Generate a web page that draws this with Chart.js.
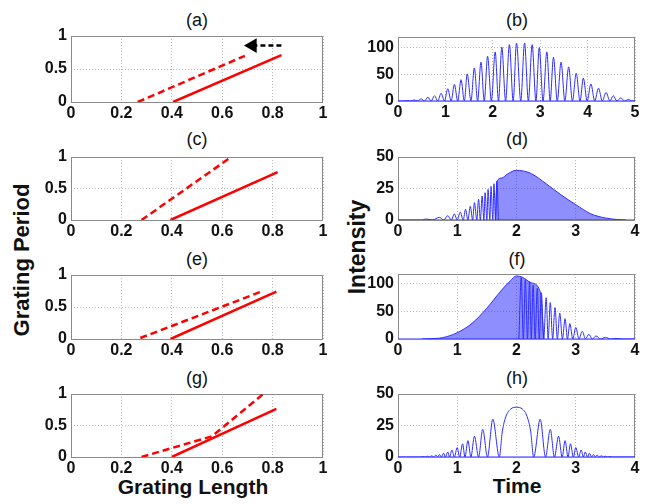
<!DOCTYPE html>
<html>
<head>
<meta charset="utf-8">
<script src="https://cdn.jsdelivr.net/npm/chart.js@4.4.0/dist/chart.umd.min.js"></script>
<style>
  body { margin: 0; background: #fff; width: 646px; height: 504px; position: relative; overflow: hidden;
         font-family: "Liberation Sans", Arial, sans-serif; color: #111; }
  canvas { position: absolute; }
  .ttl { position: absolute; font-size: 18px; transform: translate(-50%, -50%); white-space: nowrap; }
  .lbl { position: absolute; font-size: 21px; font-weight: bold; transform: translate(-50%, -50%); white-space: nowrap; }
  .rot { transform: translate(-50%, -50%) rotate(-90deg); font-size: 22px; }
</style>
</head>
<body>

<div class="ttl" style="left:197px;top:20px">(a)</div>
<div class="ttl" style="left:517px;top:20px">(b)</div>
<div class="ttl" style="left:197px;top:139px">(c)</div>
<div class="ttl" style="left:517px;top:139px">(d)</div>
<div class="ttl" style="left:197px;top:259px">(e)</div>
<div class="ttl" style="left:517px;top:259px">(f)</div>
<div class="ttl" style="left:197px;top:378px">(g)</div>
<div class="ttl" style="left:517px;top:378px">(h)</div>

<div class="lbl rot" style="left:22px;top:260px">Grating Period</div>
<div class="lbl rot" style="left:357px;top:247px;font-size:23px">Intensity</div>
<div class="lbl" style="left:193px;top:487px">Grating Length</div>
<div class="lbl" style="left:517px;top:486px">Time</div>

<canvas id="pa"></canvas>
<canvas id="pb"></canvas>
<canvas id="pc"></canvas>
<canvas id="pd"></canvas>
<canvas id="pe"></canvas>
<canvas id="pf"></canvas>
<canvas id="pg"></canvas>
<canvas id="ph"></canvas>

<script>
// Tick labels
var lengthTicks = [0, 0.2, 0.4, 0.6, 0.8, 1];
var periodTicks = [0, 0.5, 1];
var timeTicks5 = [0, 1, 2, 3, 4, 5];
var timeTicks4 = [0, 1, 2, 3, 4];
var intTicksBig = [0, 50, 100];
var intTicksSmall = [0, 25, 50];

// (a) grating profiles: solid = original, dashed = shifted, arrow = shift direction
var aSolidLen = [0.405, 0.835];
var aSolidPer = [0, 0.71];
var aDashLen = [0.265, 0.69];
var aDashPer = [0, 0.70];
var aArrowLen = [0.835, 0.72];
var aArrowPer = [0.855, 0.855];

// (c)
var cSolidLen = [0.395, 0.82];
var cSolidPer = [0, 0.76];
var cDashLen = [0.28, 0.625];
var cDashPer = [0, 0.97];

// (e)
var eSolidLen = [0.395, 0.815];
var eSolidPer = [0, 0.74];
var eDashLen = [0.275, 0.755];
var eDashPer = [0.015, 0.74];

// (g)
var gSolidLen = [0.40, 0.815];
var gSolidPer = [0, 0.765];
var gDashLen = [0.28, 0.56, 0.76];
var gDashPer = [0, 0.33, 0.99];

// (b) fringes: peaks and troughs in time order
var bTime = [0.00, 0.12, 0.20, 0.27, 0.34, 0.41, 0.49, 0.56, 0.63, 0.70, 0.77, 0.84, 0.91, 0.98, 1.05, 1.12,
  1.19, 1.26, 1.33, 1.40, 1.46, 1.54, 1.61, 1.68, 1.75, 1.82, 1.89, 1.97, 2.05, 2.12, 2.19, 2.27, 2.35, 2.43,
  2.50, 2.59, 2.67, 2.75, 2.83, 2.91, 2.98, 3.06, 3.14, 3.21, 3.28, 3.36, 3.44, 3.52, 3.60, 3.68, 3.76, 3.84,
  3.91, 3.99, 4.07, 4.15, 4.23, 4.31, 4.39, 4.47, 4.54, 4.62, 4.70, 4.78, 4.86, 4.93, 5.00];
var bInt = [0, 0, 1, 0, 2, 0, 4, 0, 7, 0, 10, 0, 14.5, 0, 23, 0,
  31, 0, 40, 0, 51, 0, 62, 0, 73, 0, 84, 0, 92, 0, 101, 0, 105.7, 0,
  108.8, 0, 108.8, 0, 105.7, 0, 100, 0, 92, 0, 82, 0, 73, 0, 64, 0, 52, 0,
  43, 0, 32, 0, 24, 0, 16, 0, 10, 0, 6, 0, 3, 0, 0];

// (d) resolved fringes on the left, then the unresolved (dense) part as its envelope
var dTime = [0.00, 0.40, 0.47, 0.58, 0.70, 0.77, 0.84, 0.90, 0.95, 1.00, 1.05, 1.10, 1.14, 1.18, 1.22, 1.26,
  1.29, 1.33, 1.36, 1.39, 1.42, 1.45, 1.47, 1.50, 1.52, 1.55, 1.57, 1.60, 1.62, 1.645, 1.67, 1.695];
var dInt = [0, 0, 0.8, 0, 2.1, 0, 3.4, 0, 4.8, 0, 6.3, 0, 8.5, 0, 10.8, 0,
  13.8, 0, 16.4, 0, 19, 0, 21.7, 0, 24.3, 0, 26.7, 0, 28.8, 0, 30.7, 0];
var dEnvTime = [1.645, 1.67, 1.75, 1.85, 1.95, 2.00, 2.10, 2.25, 2.50, 2.75, 3.00, 3.25, 3.50, 3.70, 3.85];
var dEnvInt = [0, 30.7, 33.3, 36.5, 39, 39.4, 39, 36.8, 28.8, 20, 12.2, 5, 1.6, 0.4, 0];

// (f) dense part (envelope) on the left, resolved fringes on the right
var fEnvTime = [0.40, 0.50, 0.75, 1.00, 1.25, 1.50, 1.75, 1.90, 2.00, 2.10, 2.25, 2.40, 2.46];
var fEnvInt = [0, 0.5, 2.4, 11.5, 28.5, 56, 89, 106, 114.5, 112, 102, 86, 0];
var fTime = [2.04, 2.08, 2.115, 2.15, 2.185, 2.22, 2.25, 2.28, 2.315, 2.35, 2.385, 2.42, 2.46, 2.50, 2.535,
  2.57, 2.61, 2.65, 2.69, 2.73, 2.775, 2.82, 2.86, 2.90, 2.95, 3.00, 3.055, 3.11, 3.165, 3.22, 3.28, 3.34,
  3.42, 3.50, 3.59, 3.68, 3.80, 4.00];
var fInt = [0, 112, 0, 108, 0, 104, 0, 98, 0, 92, 0, 84, 0, 75, 0,
  66, 0, 57, 0, 47, 0, 37, 0, 28, 0, 21, 0, 14, 0, 8.5, 0, 5.5,
  0, 3, 0, 1, 0, 0];

// (h) main lobe with side lobes
var hTime = [0.00, 0.38, 0.43, 0.46, 0.50, 0.53, 0.57, 0.60, 0.64, 0.67, 0.70, 0.73, 0.77, 0.80, 0.84, 0.87,
  0.91, 0.95, 1.00, 1.04, 1.09, 1.13, 1.18, 1.23, 1.29, 1.36, 1.43, 1.51, 1.60, 1.71, 1.76, 1.82, 1.90, 2.00,
  2.10, 2.18, 2.24, 2.29, 2.40, 2.49, 2.57, 2.64, 2.71, 2.77, 2.82, 2.87, 2.91, 2.96, 3.00, 3.05, 3.09, 3.13,
  3.16, 3.20, 3.23, 3.27, 3.30, 3.33, 3.36, 3.40, 3.43, 3.47, 3.50, 3.54, 3.57, 3.62, 4.00];
var hInt = [0, 0, 0.3, 0, 0.6, 0, 1, 0, 1.5, 0, 2, 0, 3, 0, 4, 0,
  5.5, 0, 7.5, 0, 10.5, 0, 13, 0, 16.5, 0, 22, 0, 30, 0, 20, 32, 38, 39.5,
  38, 32, 20, 0, 30, 0, 22, 0, 16.5, 0, 13, 0, 10.5, 0, 7.5, 0, 5.5, 0,
  4, 0, 3, 0, 2, 0, 1.5, 0, 1, 0, 0.6, 0, 0.3, 0, 0];

// Zero line under the intensity traces
var baseTime4 = [0, 4];
var baseTime5 = [0, 5];
var baseInt = [0, 0];

Chart.defaults.font.family = '"Liberation Sans", Arial, sans-serif';

// Pair two arrays up as {x, y} points
function pts(xs, ys) {
  var out = [];
  xs.forEach(function (v, i) {
    out.push({ x: v, y: ys[i] });
  });
  return out;
}

var RED = '#ff0000';
var BLUE = 'rgb(45, 45, 255)';

function redLine(xs, ys, dashed) {
  return {
    data: pts(xs, ys),
    borderColor: RED,
    borderWidth: 2.5,
    borderDash: dashed ? [7, 4] : [],
    pointRadius: 0,
    tension: 0
  };
}

function blueTrace(xs, ys) {
  return {
    data: pts(xs, ys),
    borderColor: BLUE,
    borderWidth: 1,
    pointRadius: 0,
    cubicInterpolationMode: 'monotone'
  };
}

function blueFill(xs, ys) {
  return {
    data: pts(xs, ys),
    borderColor: BLUE,
    borderWidth: 1,
    backgroundColor: 'rgba(50, 50, 255, 0.55)',
    fill: 'origin',
    pointRadius: 0,
    cubicInterpolationMode: 'monotone'
  };
}

// Box around the plot area, like the MATLAB axes
var frame = {
  id: 'frame',
  beforeDatasetsDraw: function (chart) {
    var a = chart.chartArea;
    var ctx = chart.ctx;
    ctx.save();
    ctx.strokeStyle = '#8a8a8a';
    ctx.lineWidth = 1;
    ctx.strokeRect(a.left + 0.5, a.top + 0.5, a.right - a.left - 1, a.bottom - a.top);
    ctx.restore();
  }
};

var YW = 40, XH = 22, PT = 10, PR = 10;
var tickFont = { size: 16, weight: 'bold' };

function axis(ticks, isX) {
  return {
    type: 'linear',
    min: ticks[0],
    max: ticks[ticks.length - 1],
    afterBuildTicks: function (s) {
      s.ticks = ticks.map(function (v) { return { value: v }; });
    },
    afterFit: function (s) {
      if (isX) {
        s.height = XH;
        s.paddingLeft = 0;
        s.paddingRight = 0;
      } else {
        s.width = YW;
        s.paddingTop = 0;
        s.paddingBottom = 0;
      }
    },
    grid: { color: '#b8b8b8', drawTicks: false },
    border: { display: false, dash: [1, 2] },
    ticks: {
      padding: isX ? 2 : 4,
      color: '#111',
      font: tickFont,
      maxRotation: 0,
      autoSkip: false,
      callback: function (v) { return String(v); }
    }
  };
}

// box = where the plot area sits on the page
function makePanel(id, box, xTicks, yTicks, yMax, datasets) {
  var cv = document.getElementById(id);
  cv.width = box.r - box.l + YW + PR;
  cv.height = box.b - box.t + PT + XH;
  cv.style.left = (box.l - YW) + 'px';
  cv.style.top = (box.t - PT) + 'px';

  var yAxis = axis(yTicks, false);
  yAxis.max = yMax;

  return new Chart(cv, {
    type: 'line',
    data: { datasets: datasets },
    options: {
      responsive: false,
      animation: false,
      layout: { padding: { top: PT, right: PR, left: 0, bottom: 0 } },
      plugins: { legend: { display: false }, tooltip: { enabled: false } },
      scales: { x: axis(xTicks, true), y: yAxis }
    },
    plugins: [frame]
  });
}

var LEFT = { l: 71, r: 323 };
var RIGHT = { l: 398, r: 635 };

// Grating panels
makePanel('pa', { l: LEFT.l, r: LEFT.r, t: 36, b: 102 }, lengthTicks, periodTicks, 1, [
  redLine(aSolidLen, aSolidPer, false),
  redLine(aDashLen, aDashPer, true),
  {
    data: pts(aArrowLen, aArrowPer),
    borderColor: '#000',
    borderWidth: 2.5,
    borderDash: [5, 3],
    pointRadius: [0, 6],
    pointStyle: 'triangle',
    pointRotation: -90,
    pointBackgroundColor: '#000',
    pointBorderColor: '#000'
  }
]);
makePanel('pc', { l: LEFT.l, r: LEFT.r, t: 157, b: 220 }, lengthTicks, periodTicks, 1, [
  redLine(cSolidLen, cSolidPer, false),
  redLine(cDashLen, cDashPer, true)
]);
makePanel('pe', { l: LEFT.l, r: LEFT.r, t: 275, b: 339 }, lengthTicks, periodTicks, 1, [
  redLine(eSolidLen, eSolidPer, false),
  redLine(eDashLen, eDashPer, true)
]);
makePanel('pg', { l: LEFT.l, r: LEFT.r, t: 394, b: 457 }, lengthTicks, periodTicks, 1, [
  redLine(gSolidLen, gSolidPer, false),
  redLine(gDashLen, gDashPer, true)
]);

// Intensity panels
makePanel('pb', { l: RIGHT.l, r: RIGHT.r, t: 37, b: 101 }, timeTicks5, intTicksBig, 120, [
  blueTrace(baseTime5, baseInt),
  blueTrace(bTime, bInt)
]);
makePanel('pd', { l: RIGHT.l, r: RIGHT.r, t: 157, b: 220 }, timeTicks4, intTicksSmall, 50, [
  blueTrace(baseTime4, baseInt),
  blueTrace(dTime, dInt),
  blueFill(dEnvTime, dEnvInt)
]);
makePanel('pf', { l: RIGHT.l, r: RIGHT.r, t: 274, b: 339 }, timeTicks4, intTicksBig, 118, [
  blueTrace(baseTime4, baseInt),
  blueFill(fEnvTime, fEnvInt),
  blueTrace(fTime, fInt)
]);
makePanel('ph', { l: RIGHT.l, r: RIGHT.r, t: 394, b: 457 }, timeTicks4, intTicksSmall, 50, [
  blueTrace(baseTime4, baseInt),
  blueTrace(hTime, hInt)
]);
</script>
</body>
</html>
